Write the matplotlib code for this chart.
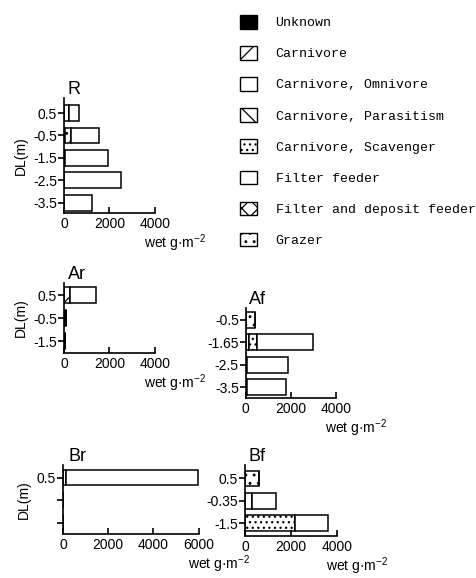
import numpy as np
import matplotlib
matplotlib.use("Agg")
import matplotlib.pyplot as plt
from matplotlib.patches import Patch

plt.rcParams['font.family'] = ['Liberation Sans', 'DejaVu Sans']
plt.rcParams['hatch.linewidth'] = 0.9

W, H = 477, 578

# categories (legend order) and their fill styles
categories = ["Unknown", "Carnivore", "Carnivore, Omnivore", "Carnivore, Parasitism",
              "Carnivore, Scavenger", "Filter feeder", "Filter and deposit feeder", "Grazer"]
# stacking order from the axis outwards
stack_order = ["Unknown", "Carnivore", "Carnivore, Parasitism", "Carnivore, Scavenger",
               "Grazer", "Carnivore, Omnivore", "Filter and deposit feeder", "Filter feeder"]

# panel R
R_depth = ["0.5", "-0.5", "-1.5", "-2.5", "-3.5"]
R_unknown = [0, 0, 50, 0, 0]
R_carnivore = [200, 30, 0, 0, 0]
R_grazer = [0, 270, 0, 0, 0]
R_filter = [460, 1250, 1900, 2490, 1230]

# panel Ar
Ar_depth = ["0.5", "-0.5", "-1.5"]
Ar_unknown = [0, 80, 40]
Ar_carnivore = [250, 0, 0]
Ar_filter = [1150, 0, 0]

# panel Af
Af_depth = ["-0.5", "-1.65", "-2.5", "-3.5"]
Af_unknown = [0, 0, 60, 60]
Af_carnivore = [0, 150, 0, 0]
Af_scavenger = [0, 340, 0, 0]
Af_grazer = [410, 0, 0, 0]
Af_filter = [0, 2480, 1830, 1725]

# panel Br
Br_depth = ["0.5", "", ""]
Br_carnivore = [120, 0, 0]
Br_filter = [5830, 0, 0]

# panel Bf
Bf_depth = ["0.5", "-0.35", "-1.5"]
Bf_carnivore = [0, 290, 0]
Bf_scavenger = [0, 0, 2170]
Bf_grazer = [630, 0, 0]
Bf_filter = [0, 1070, 1430]

styles = {
    "Unknown": dict(facecolor="black", hatch=None),
    "Carnivore": dict(facecolor="white", hatch="/"),
    "Carnivore, Omnivore": dict(facecolor="white", hatch=None),
    "Carnivore, Parasitism": dict(facecolor="white", hatch="\\"),
    "Carnivore, Scavenger": dict(facecolor="white", hatch="..."),
    "Filter feeder": dict(facecolor="white", hatch=None),
    "Filter and deposit feeder": dict(facecolor="white", hatch="xx"),
    "Grazer": dict(facecolor="white", hatch=".."),
}


def box(left, top, right, bottom):
    return [left / W, 1 - bottom / H, (right - left) / W, (bottom - top) / H]


fig = plt.figure(figsize=(W / 100, H / 100), dpi=100)


def panel(rect, title, depth, data, xmax, xticks, ylim, ylabel):
    ax = fig.add_axes(rect)
    y = np.arange(len(depth))
    left = np.zeros(len(depth))
    for cat in stack_order:
        if cat not in data:
            continue
        vals = np.array(data[cat], dtype=float)
        st = styles[cat]
        ax.barh(y, vals, left=left, height=0.7, facecolor=st["facecolor"],
                hatch=st["hatch"], edgecolor="black", linewidth=1.1)
        left += vals
    ax.set_xlim(0, xmax)
    ax.set_ylim(*ylim)
    ax.set_yticks(y)
    ax.set_yticklabels(depth)
    ax.set_xticks(xticks)
    for s in ["top", "right"]:
        ax.spines[s].set_visible(False)
    for s in ["left", "bottom"]:
        ax.spines[s].set_linewidth(1.2)
    ax.tick_params(axis="y", direction="out", length=4, width=1.2, labelsize=10, pad=1)
    ax.tick_params(axis="x", direction="in", length=4, width=1.2, labelsize=10, pad=3)
    ax.annotate("wet g\u00b7m$^{\\mathregular{-2}}$", xy=(1, 0), xycoords="axes fraction",
                xytext=(-8, -14), textcoords="offset points", ha="left", va="top", fontsize=10)
    ax.text(0.04, 1.0, title, transform=ax.transAxes, ha="left", va="bottom", fontsize=13)
    if ylabel:
        ax.set_ylabel("DL(m)", fontsize=10, labelpad=4)
    return ax


panel(box(64, 98, 155, 213), "R", R_depth,
      {"Unknown": R_unknown, "Carnivore": R_carnivore, "Grazer": R_grazer, "Filter feeder": R_filter},
      4000, [0, 2000, 4000], (4.46, -0.67), True)
panel(box(64, 283, 155, 352.7), "Ar", Ar_depth,
      {"Unknown": Ar_unknown, "Carnivore": Ar_carnivore, "Filter feeder": Ar_filter},
      4000, [0, 2000, 4000], (2.5, -0.52), True)
panel(box(245.7, 308, 336, 398.3), "Af", Af_depth,
      {"Unknown": Af_unknown, "Carnivore": Af_carnivore, "Carnivore, Scavenger": Af_scavenger,
       "Grazer": Af_grazer, "Filter feeder": Af_filter},
      4000, [0, 2000, 4000], (3.5, -0.53), False)
panel(box(63, 465, 198.7, 534.3), "Br", Br_depth,
      {"Carnivore": Br_carnivore, "Filter feeder": Br_filter},
      6000, [0, 2000, 4000, 6000], (2.52, -0.56), True)
panel(box(245, 465, 336.7, 536), "Bf", Bf_depth,
      {"Carnivore": Bf_carnivore, "Carnivore, Scavenger": Bf_scavenger,
       "Grazer": Bf_grazer, "Filter feeder": Bf_filter},
      4000, [0, 2000, 4000], (2.57, -0.6), False)

handles = [Patch(facecolor=styles[c]["facecolor"], hatch=styles[c]["hatch"],
                 edgecolor="black", linewidth=1.0, label=c) for c in categories]
fig.legend(handles=handles, loc="upper left", bbox_to_anchor=(240 / W, 1 - 15 / H),
           frameon=False, prop={"family": "Liberation Mono", "size": 9.5},
           handlelength=1.3, handleheight=1.2, labelspacing=1.28, handletextpad=1.4,
           borderaxespad=0, borderpad=0)

fig.savefig("out.png", dpi=100)
